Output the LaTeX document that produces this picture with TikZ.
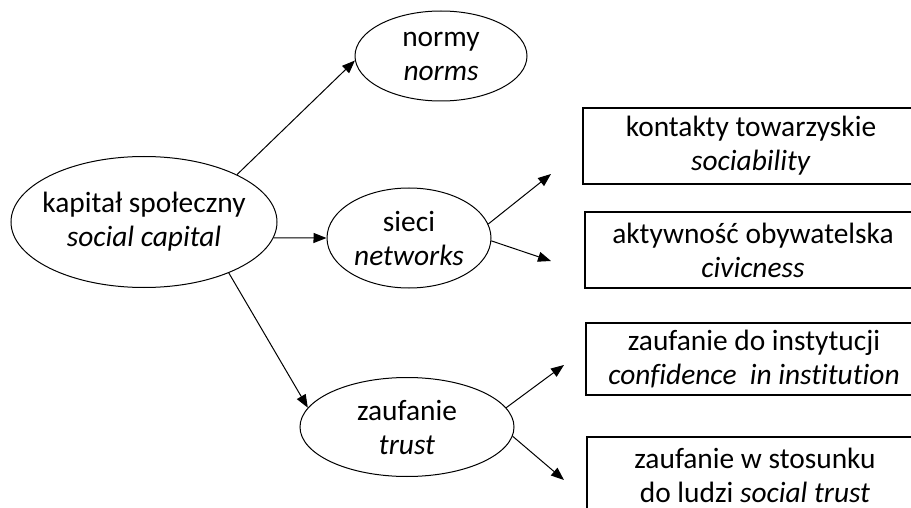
\documentclass[tikz,border=0pt]{standalone}
\usepackage{fontspec}
\setmainfont{Carlito}[Ligatures=NoCommon]
\usepackage{tikz}
\usetikzlibrary{shapes.geometric,arrows.meta}

\begin{document}
\begin{tikzpicture}[x=.5pt, y=-.5pt, line width=.5pt,
    font=\fontsize{14.7}{17}\selectfont,
    oval/.style={draw, ellipse, inner sep=-10pt, align=center},
    pole/.style={draw, rectangle, line width=.85pt, inner sep=0pt,
        minimum width=168pt, align=center},
    strz/.style={-{Triangle[length=6.5pt, width=5pt]}}]
            % Ramka.
            \useasboundingbox (0,0) rectangle (911,508);
            \clip (0,0) rectangle (911,508);

            % Elipsy.
            \node[oval, minimum width=133pt, minimum height=65.5pt] (kapital) at (144,222) {kapitał społeczny\\\textit{social capital}};
            \node[oval, minimum width=86pt, minimum height=45pt] (normy) at (441,56) {normy\\\textit{norms}};
            \node[oval, minimum width=82pt, minimum height=50pt] (sieci) at (409,238) {sieci\\\textit{networks}};
            \node[oval, minimum width=107pt, minimum height=49.5pt] (zaufanie) at (407,427) {zaufanie\\\textit{trust}};

            % Prostokaty.
            \node[pole, minimum height=38pt] (kontakty) at (751,146) {kontakty towarzyskie\\\textit{sociability}};
            \node[pole, minimum height=38pt] (aktywnosc) at (753,250) {aktywność obywatelska\\\textit{civicness}};
            \node[pole, minimum height=36pt] (instytucje) at (754,359) {zaufanie do instytucji\\\textit{confidence\ \ in institution}};
            \node[pole, minimum height=38pt] (ludzie) at (755,475) {zaufanie w stosunku\\do ludzi \textit{social trust}};

            % Konce strzalek.
            \coordinate (k1) at (551,174);
            \coordinate (k2) at (551,261);
            \coordinate (k3) at (564,365);
            \coordinate (k4) at (564,480);

            % Strzalki.
            \draw[strz] (kapital.27) -- (normy.183);
            \draw[strz] (kapital.-7) -- (sieci.180);
            \draw[strz] (kapital.-31) -- (zaufanie.169);
            \draw[strz] (sieci.10) -- (k1);
            \draw[strz] (sieci.-2) -- (k2);
            \draw[strz] (zaufanie.11) -- (k3);
            \draw[strz] (zaufanie.-5) -- (k4);
        \end{tikzpicture}
\end{document}
